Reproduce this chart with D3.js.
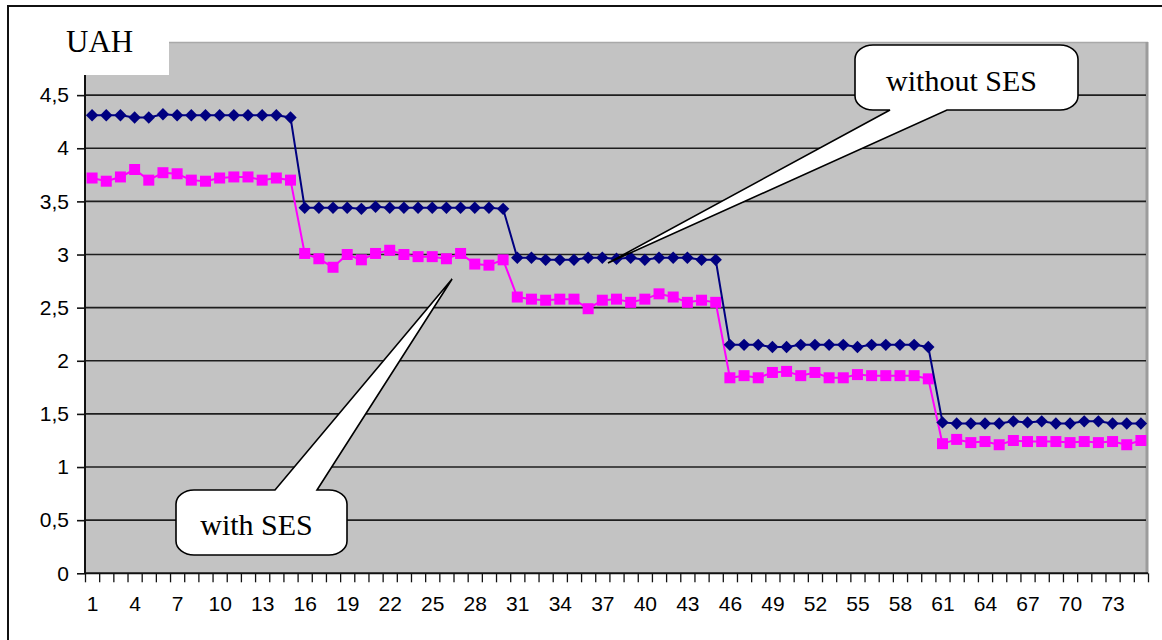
<!DOCTYPE html>
<html>
<head>
<meta charset="utf-8">
<script src="https://cdn.jsdelivr.net/npm/d3@7"></script>
<style>
  body { margin: 0; background: #fff; }
  svg { display: block; }
  .sans { font-family: "Liberation Sans", Arial, sans-serif; }
  .serif { font-family: "Liberation Serif", "Times New Roman", "DejaVu Serif", serif; }
</style>
</head>
<body>
<svg id="chart" width="1162" height="640"></svg>
<script>
// Measurement index 1..75
const categories = d3.range(1, 76);

// Cost, UAH — without SES
const withoutSES = [
  4.31, 4.31, 4.31, 4.29, 4.29, 4.32, 4.31, 4.31, 4.31, 4.31, 4.31, 4.31, 4.31, 4.31, 4.29,
  3.44, 3.44, 3.44, 3.44, 3.43, 3.45, 3.44, 3.44, 3.44, 3.44, 3.44, 3.44, 3.44, 3.44, 3.43,
  2.97, 2.97, 2.95, 2.95, 2.95, 2.97, 2.97, 2.96, 2.97, 2.95, 2.97, 2.97, 2.97, 2.95, 2.95,
  2.15, 2.15, 2.15, 2.13, 2.13, 2.15, 2.15, 2.15, 2.15, 2.13, 2.15, 2.15, 2.15, 2.15, 2.13,
  1.42, 1.41, 1.41, 1.41, 1.41, 1.43, 1.42, 1.43, 1.41, 1.41, 1.43, 1.43, 1.41, 1.41, 1.41
];

// Cost, UAH — with SES
const withSES = [
  3.72, 3.69, 3.73, 3.80, 3.70, 3.77, 3.76, 3.70, 3.69, 3.72, 3.73, 3.73, 3.70, 3.72, 3.70,
  3.01, 2.96, 2.88, 3.00, 2.95, 3.01, 3.04, 3.00, 2.98, 2.98, 2.96, 3.01, 2.91, 2.90, 2.95,
  2.60, 2.58, 2.57, 2.58, 2.58, 2.49, 2.57, 2.58, 2.55, 2.58, 2.63, 2.60, 2.55, 2.57, 2.55,
  1.84, 1.86, 1.84, 1.89, 1.90, 1.86, 1.89, 1.84, 1.84, 1.87, 1.86, 1.86, 1.86, 1.86, 1.83,
  1.22, 1.26, 1.23, 1.24, 1.21, 1.25, 1.24, 1.24, 1.24, 1.23, 1.24, 1.23, 1.24, 1.21, 1.25
];

const yTicks = [0, 0.5, 1, 1.5, 2, 2.5, 3, 3.5, 4, 4.5];
const xLabels = d3.range(1, 76, 3);   // 1, 4, 7, ... 73

// Callout anchor points (category, value) and their labels
const calloutTexts = ["without SES", "with SES"];
const calloutTips = [[37.4, 2.92], [26.4, 2.77]];

const svg = d3.select("#chart");
const plot = { left: 85, right: 1148, top: 42, bottom: 573.3 };

const x = d3.scaleLinear()
  .domain([0.5, categories.length + 0.5])
  .range([plot.left, plot.right]);
const y = d3.scaleLinear()
  .domain([0, 5])
  .range([plot.bottom, plot.top]);

// Outer frame (top and left edges)
svg.append("path")
  .attr("d", "M8,640 L8,6 L1162,6")
  .attr("fill", "none").attr("stroke", "#111").attr("stroke-width", 2);

// Plot area
svg.append("rect")
  .attr("x", plot.left).attr("y", plot.top)
  .attr("width", plot.right - plot.left).attr("height", plot.bottom - plot.top)
  .attr("fill", "#c3c3c3");
svg.append("line")
  .attr("x1", plot.left).attr("x2", plot.right)
  .attr("y1", plot.top + 0.5).attr("y2", plot.top + 0.5)
  .attr("stroke", "#a9a9a9").attr("stroke-width", 1.5);
svg.append("line")
  .attr("x1", plot.right - 1).attr("x2", plot.right - 1)
  .attr("y1", plot.top).attr("y2", plot.bottom)
  .attr("stroke", "#9c9c9c").attr("stroke-width", 3);

// Horizontal gridlines
svg.append("g")
  .selectAll("line")
  .data(yTicks.filter(d => d > 0))
  .join("line")
  .attr("x1", plot.left).attr("x2", plot.right - 2)
  .attr("y1", d => y(d)).attr("y2", d => y(d))
  .attr("stroke", "#1e1e1e").attr("stroke-width", 1.6);

// Y axis
const yAxis = svg.append("g")
  .attr("transform", `translate(${plot.left},0)`)
  .call(d3.axisLeft(y)
    .tickValues(yTicks)
    .tickSize(8)
    .tickPadding(8)
    .tickFormat(d => String(d).replace(".", ",")));
yAxis.attr("font-family", null).attr("font-size", null);
yAxis.select(".domain").attr("stroke", "#111").attr("stroke-width", 2)
  .attr("d", `M0,${plot.bottom}V${plot.top}`);
yAxis.selectAll(".tick line").attr("stroke", "#111").attr("stroke-width", 1.6);
yAxis.selectAll("text")
  .attr("class", "sans").style("font-size", "21px").attr("fill", "#000");

// X axis: tick marks on category boundaries
const xTickAxis = svg.append("g")
  .attr("transform", `translate(0,${plot.bottom})`)
  .call(d3.axisBottom(x)
    .tickValues(d3.range(0.5, categories.length + 1, 1))
    .tickSize(9)
    .tickFormat(""));
xTickAxis.select(".domain").attr("stroke", "#111").attr("stroke-width", 2)
  .attr("d", `M${plot.left},0H${plot.right}`);
xTickAxis.selectAll(".tick line").attr("stroke", "#111").attr("stroke-width", 1.3);

// X axis: category labels every third point
const xLabelAxis = svg.append("g")
  .attr("transform", `translate(0,${plot.bottom})`)
  .call(d3.axisBottom(x)
    .tickValues(xLabels)
    .tickSize(0)
    .tickPadding(23)
    .tickFormat(d3.format("d")));
xLabelAxis.attr("font-family", null).attr("font-size", null);
xLabelAxis.select(".domain").remove();
xLabelAxis.selectAll("text")
  .attr("class", "sans").style("font-size", "21px").attr("fill", "#000");

// Series
const series = [
  { values: withSES, color: "#ff00ff", marker: "square" },
  { values: withoutSES, color: "#000080", marker: "diamond" }
];
const line = d3.line().x((d, i) => x(categories[i])).y(d => y(d));
const diamond = "M0,-6.2L6.2,0L0,6.2L-6.2,0Z";
const square = d3.symbol().type(d3.symbolSquare).size(121)();

series.forEach(s => {
  const g = svg.append("g");
  g.append("path")
    .datum(s.values)
    .attr("d", line)
    .attr("fill", "none")
    .attr("stroke", s.color)
    .attr("stroke-width", 2);
  g.selectAll("path.marker")
    .data(s.values)
    .join("path")
    .attr("class", "marker")
    .attr("transform", (d, i) => `translate(${x(categories[i])},${y(d)})`)
    .attr("d", s.marker === "diamond" ? diamond : square)
    .attr("fill", s.color);
});

// Axis title box
svg.append("rect")
  .attr("x", 40).attr("y", 20).attr("width", 129).attr("height", 55)
  .attr("fill", "#fff");
svg.append("text")
  .attr("class", "serif")
  .attr("x", 66).attr("y", 52)
  .style("font-size", "31px").attr("fill", "#000")
  .text("UAH");

// Rounded callout with a wedge pointer leaving one side of the box
function calloutPath(b, r, side, baseA, baseB, tip) {
  const { x0, y0, x1, y1 } = b;
  const rx = r[0], ry = r[1];
  let p = `M${x0 + rx},${y0}`;
  if (side === "top") p += `L${baseA},${y0}L${tip[0]},${tip[1]}L${baseB},${y0}`;
  p += `L${x1 - rx},${y0}A${rx},${ry} 0 0 1 ${x1},${y0 + ry}`;
  p += `L${x1},${y1 - ry}A${rx},${ry} 0 0 1 ${x1 - rx},${y1}`;
  if (side === "bottom") p += `L${baseB},${y1}L${tip[0]},${tip[1]}L${baseA},${y1}`;
  p += `L${x0 + rx},${y1}A${rx},${ry} 0 0 1 ${x0},${y1 - ry}`;
  p += `L${x0},${y0 + ry}A${rx},${ry} 0 0 1 ${x0 + rx},${y0}Z`;
  return p;
}

const callouts = [
  { box: { x0: 855, y0: 45, x1: 1078, y1: 110 }, side: "bottom", base: [890, 947], baseline: 91 },
  { box: { x0: 176, y0: 490, x1: 347, y1: 555 }, side: "top", base: [275, 317], baseline: 535 }
];

callouts.forEach((c, i) => {
  const tip = [x(calloutTips[i][0]), y(calloutTips[i][1])];
  svg.append("path")
    .attr("d", calloutPath(c.box, [18, 14], c.side, c.base[0], c.base[1], tip))
    .attr("fill", "#fff")
    .attr("stroke", "#000")
    .attr("stroke-width", 1.6)
    .attr("stroke-linejoin", "miter");
  svg.append("text")
    .attr("class", "serif")
    .attr("x", (c.box.x0 + c.box.x1) / 2 - 5)
    .attr("y", c.baseline)
    .attr("text-anchor", "middle")
    .style("font-size", "30px").attr("fill", "#000")
    .text(calloutTexts[i]);
});
</script>
</body>
</html>
